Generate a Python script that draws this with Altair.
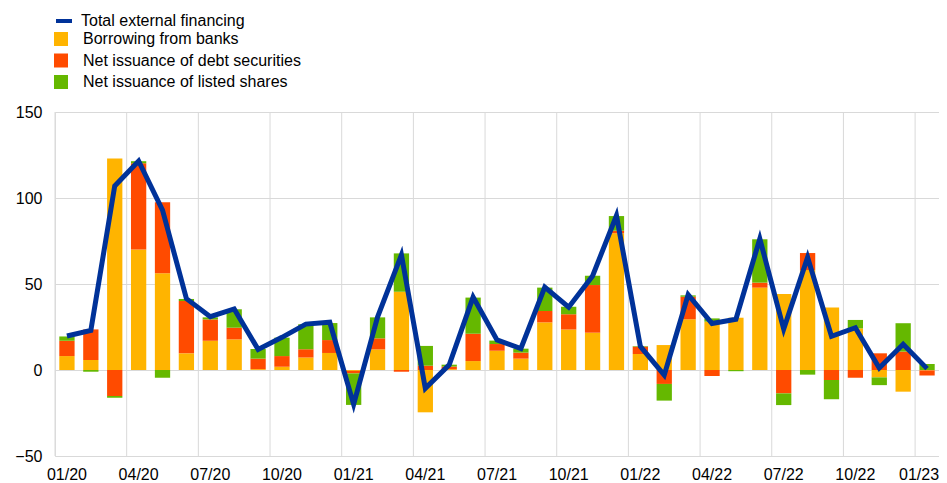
import altair as alt
import pandas as pd

months = ["01/20", "02/20", "03/20", "04/20", "05/20", "06/20", "07/20", "08/20", "09/20",
          "10/20", "11/20", "12/20", "01/21", "02/21", "03/21", "04/21", "05/21", "06/21",
          "07/21", "08/21", "09/21", "10/21", "11/21", "12/21", "01/22", "02/22", "03/22",
          "04/22", "05/22", "06/22", "07/22", "08/22", "09/22", "10/22", "11/22", "12/22",
          "01/23"]

banks = [8.1, 5.8, 123.0, 70.0, 56.2, 9.7, 17.0, 17.8, 0.5, 1.9, 7.2, 9.9,
         -0.5, 12.0, 45.5, -24.6, 0.5, 5.2, 11.2, 6.6, 27.7, 23.6, 21.7, 79.5,
         9.3, 14.5, 29.5, 28.1, 30.4, 47.9, 44.2, 58.1, 36.4, 24.2, -4.3, -12.6,
         -0.3]
debt = [8.9, 17.8, -15.1, 50.2, 41.3, 30.4, 12.4, 6.8, 6.1, 6.2, 4.8, 7.5,
        -1.5, 6.4, -1.0, 2.5, 1.5, 15.9, 3.9, 3.5, 6.6, 8.8, 27.7, 1.5,
        4.3, -8.1, 13.1, -3.5, 0.0, 2.9, -13.6, 9.9, -5.8, -4.5, 9.7, 10.7,
        -2.9]
shares = [2.5, -1.0, -1.0, 1.2, -4.5, 1.2, 1.2, 10.7, 5.6, 10.7, 14.6, 9.9,
          -18.3, 12.2, 22.3, 11.5, 1.1, 21.0, 2.0, 2.3, 13.6, 4.4, 5.4, 8.5,
          0.3, -9.7, 0.8, 1.9, -0.7, 25.2, -6.8, -2.7, -11.2, 4.9, -4.5, 16.5,
          3.5]
total = [19.8, 23.0, 107.0, 121.5, 93.0, 41.5, 31.0, 35.5, 12.0, 19.0, 26.7, 27.8,
         -20.0, 30.8, 66.9, -10.7, 3.0, 42.4, 17.5, 12.5, 48.2, 36.5, 54.7, 89.8,
         13.7, -3.0, 43.8, 27.0, 29.5, 76.3, 23.8, 65.5, 19.6, 24.6, 1.2, 15.0,
         0.8]

series_names = ["Borrowing from banks", "Net issuance of debt securities",
                "Net issuance of listed shares"]
series_colors = ["#FFB400", "#FF4B00", "#65B800"]
line_name = "Total external financing"
line_color = "#003299"
tick_months = months[::3]
y_ticks = [-50, 0, 50, 100, 150]

rows = []
for i, m in enumerate(months):
    for k, (name, vals) in enumerate(zip(series_names, [banks, debt, shares])):
        rows.append({"month": m, "series": name, "value": vals[i], "ord": k})
bars_df = pd.DataFrame(rows)
line_df = pd.DataFrame({"month": months, "total": total, "s": line_name})
grid_df = pd.DataFrame({"month": tick_months})

xscale = alt.Scale(domain=months, paddingInner=0, paddingOuter=0)
yscale = alt.Scale(domain=[-50, 150], nice=False)

last = months[-1]

grid = alt.Chart(grid_df).mark_rule(color="#d9d9d9", strokeWidth=1).encode(
    x=alt.X("month:O", scale=xscale, bandPosition=0, title=None,
            axis=alt.Axis(values=tick_months, labelAngle=0, ticks=False, domain=False,
                          grid=False, labelFontSize=16, labelPadding=10,
                          labelOffset=alt.expr(f"datum.value == '{last}' ? -8 : 0"),
                          labelColor="#000000", labelFont="Liberation Sans"))
)

bars = alt.Chart(bars_df).mark_bar(width=alt.RelativeBandSize(0.64)).encode(
    x=alt.X("month:O", scale=xscale, title=None),
    y=alt.Y("value:Q", stack="zero", scale=yscale, title=None,
            axis=alt.Axis(values=y_ticks, ticks=False, domain=False, gridColor="#d9d9d9",
                          labelFontSize=16, labelPadding=13, labelColor="#000000",
                          labelFont="Liberation Sans")),
    color=alt.Color("series:N",
                    scale=alt.Scale(domain=series_names, range=series_colors),
                    legend=alt.Legend(title=None, orient="none", legendX=-2, legendY=-81,
                                      symbolType="square", symbolSize=196,
                                      symbolStrokeWidth=0, labelFontSize=16,
                                      labelFont="Liberation Sans", labelColor="#000000",
                                      labelOffset=14, rowPadding=5.5, padding=0,
                                      labelLimit=400)),
    order=alt.Order("ord:Q", sort="ascending"),
)

line = alt.Chart(line_df).mark_line(strokeWidth=5).encode(
    x=alt.X("month:O", scale=xscale, title=None),
    y=alt.Y("total:Q", scale=yscale),
    stroke=alt.Stroke("s:N", scale=alt.Scale(domain=[line_name], range=[line_color]),
                      legend=alt.Legend(title=None, orient="none", legendX=-1, legendY=-101,
                                        symbolType="stroke", symbolSize=256,
                                        symbolStrokeWidth=4, labelFontSize=16,
                                        labelFont="Liberation Sans", labelColor="#000000",
                                        labelOffset=7, padding=0, labelLimit=400)),
)

chart = alt.layer(grid, bars, line).properties(
    width=884, height=344,
    padding={"left": 47, "top": 104, "right": 0, "bottom": 27},
    autosize=alt.AutoSizeParams(type="none"),
).configure_view(stroke=None).configure(font="Liberation Sans")

chart.save("out.html", embed_options={"renderer": "svg", "actions": False})
